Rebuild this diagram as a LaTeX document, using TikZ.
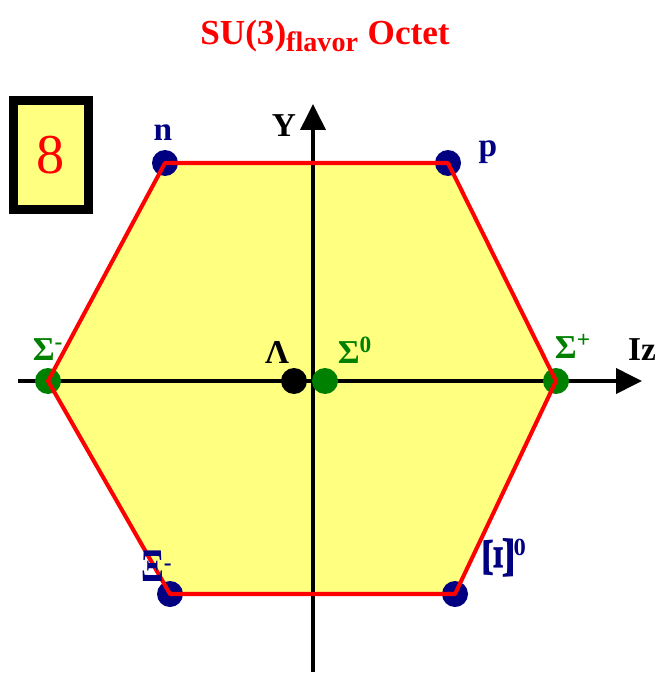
\documentclass[tikz,border=0pt]{standalone}
\usepackage{fontspec}
\setmainfont{Liberation Serif}
\usepackage{xcolor}
\usepackage{graphicx}
\usetikzlibrary{arrows.meta}
\definecolor{ocred}{HTML}{FF0000}
\definecolor{ocyellow}{HTML}{FFFF80}
\definecolor{ocnavy}{HTML}{000080}
\definecolor{ocgreen}{HTML}{008000}
\tikzset{
  dot/.style={circle, inner sep=0pt, minimum size=0.52cm},
  lbl/.style={inner sep=0pt, font=\fontsize{19pt}{21pt}\selectfont\bfseries},
  axis/.style={line width=2.2pt, -{Triangle[length=0.52cm, width=0.5cm]}},
  hexline/.style={ocred, line width=2.3pt, line join=round}
}

\begin{document}
\begin{tikzpicture}[x=0.02cm, y=-0.02cm]
  \useasboundingbox (0,0) rectangle (664,679);
  % title and multiplet box
  \node[inner sep=0pt, text=ocred, font=\fontsize{20pt}{22pt}\selectfont\bfseries] (title) at (325,36)
    {SU(3)\textsubscript{\fontsize{16pt}{18pt}\selectfont flavor} Octet};
  \node[draw=black, line width=5.5pt, fill=ocyellow, minimum width=1.5cm, minimum height=2.18cm,
        text=ocred, font=\fontsize{32pt}{34pt}\selectfont] (rep) at (51,155) {8};
  % particle positions
  \coordinate (nn)   at (165,163);
  \coordinate (pp)   at (448,163);
  \coordinate (sigp) at (556,381);
  \coordinate (xiz)  at (455,594);
  \coordinate (xim)  at (170,594);
  \coordinate (sigm) at (48,381);
  \fill[ocyellow] (nn) -- (pp) -- (sigp) -- (xiz) -- (xim) -- (sigm) -- cycle;
  % axes
  \coordinate (xs) at (18,381);
  \coordinate (xe) at (642,381);
  \coordinate (ys) at (313,672);
  \coordinate (ye) at (313,104);
  \draw[axis] (xs) -- (xe);
  \draw[axis] (ys) -- (ye);
  % dots
  \node[dot, fill=ocnavy]  (n)    at (nn)   {};
  \node[dot, fill=ocnavy]  (p)    at (pp)   {};
  \node[dot, fill=ocgreen] (sp)   at (sigp) {};
  \node[dot, fill=ocnavy]  (x0)   at (xiz)  {};
  \node[dot, fill=ocnavy]  (xm)   at (xim)  {};
  \node[dot, fill=ocgreen] (sm)   at (sigm) {};
  \node[dot, fill=black]   (lam)  at (294,381) {};
  \node[dot, fill=ocgreen] (s0)   at (325,381) {};
  \draw[hexline] (nn) -- (pp) -- (sigp) -- (xiz) -- (xim) -- (sigm) -- cycle;
  % labels
  \node[lbl, text=ocnavy] (nl)  at (163,133) {n};
  \node[lbl, text=ocnavy] (pl)  at (488,152) {p};
  \node[lbl, text=ocgreen] (sml) at (48,350) {Σ\textsuperscript{-}};
  \node[lbl] (laml) at (277,352) {Λ};
  \node[lbl, text=ocgreen] (s0l) at (355,350) {Σ\textsuperscript{0}};
  \node[lbl, text=ocgreen] (spl) at (573,346) {Σ\textsuperscript{+}};
  \node[lbl, text=ocnavy] (xml) at (157,566) {\scalebox{1}[1.4]{Ξ}\textsuperscript{-}};
  \node[lbl, text=ocnavy] (x0l) at (505,558)
    {\rotatebox{90}{\scalebox{2}[1.35]{Ξ}}\raisebox{0.75em}{\fontsize{14pt}{16pt}\selectfont 0}};
  \node[lbl] (yl) at (284,126) {Y};
  \node[lbl] (izl) at (642,350) {Iz};
\end{tikzpicture}
\end{document}
